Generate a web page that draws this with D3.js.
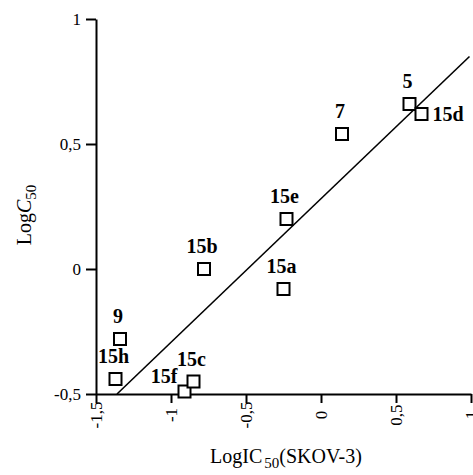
<!DOCTYPE html>
<html>
<head>
<meta charset="utf-8">
<script src="https://cdn.jsdelivr.net/npm/d3@7"></script>
<style>
  body { margin: 0; background: #fff; }
  svg { display: block; font-family: "Liberation Serif", "Times New Roman", serif; }
</style>
</head>
<body>
<div id="chart"></div>
<script>
// compounds and their log values
var compounds = ["15h", "9", "15f", "15c", "15b", "15a", "15e", "7", "5", "15d"];
var logIC50 = [-1.37, -1.34, -0.91, -0.85, -0.78, -0.25, -0.23, 0.14, 0.59, 0.67];
var logC50 = [-0.44, -0.28, -0.49, -0.45, 0.0, -0.08, 0.20, 0.54, 0.66, 0.62];

// fitted line, two ends
var fitX = [-1.36, 0.99];
var fitY = [-0.5, 0.85];

var xTicks = [-1.5, -1, -0.5, 0, 0.5, 1];
var yTicks = [-0.5, 0, 0.5, 1];

var W = 473, H = 475;

var svg = d3.select("#chart").append("svg")
    .attr("width", W)
    .attr("height", H);

var x = d3.scaleLinear().domain([-1.5, 1]).range([96, 471]);
var y = d3.scaleLinear().domain([-0.5, 1]).range([394, 19]);

var fmt = function (d) {
    return String(d).replace(".", ",");
};

// x axis
var xAxis = svg.append("g")
    .attr("transform", "translate(0,394)")
    .call(d3.axisBottom(x).tickValues(xTicks).tickSize(9).tickSizeOuter(0).tickFormat(fmt));

xAxis.selectAll("text")
    .attr("transform", "rotate(-90)")
    .attr("x", -21)
    .attr("y", 0)
    .attr("dy", "0.35em")
    .style("text-anchor", "middle");

// y axis
var yAxis = svg.append("g")
    .attr("transform", "translate(96,0)")
    .call(d3.axisLeft(y).tickValues(yTicks).tickSize(10).tickSizeOuter(0).tickFormat(fmt));

[xAxis, yAxis].forEach(function (ax) {
    ax.select(".domain").attr("stroke", "#000").attr("stroke-width", 2);
    ax.selectAll(".tick line").attr("stroke", "#000").attr("stroke-width", 2);
    ax.selectAll("text")
        .attr("fill", "#000")
        .style("font-family", "Liberation Serif, serif")
        .style("font-size", "17px");
});
yAxis.selectAll("text").attr("x", -15);

// regression line
svg.append("line")
    .attr("x1", x(fitX[0]))
    .attr("y1", y(fitY[0]))
    .attr("x2", x(fitX[1]))
    .attr("y2", y(fitY[1]))
    .attr("stroke", "#000")
    .attr("stroke-width", 1.6);

// markers
var pts = compounds.map(function (c, i) {
    return { name: c, x: logIC50[i], y: logC50[i] };
});

var sq = 12;
svg.selectAll(".pt")
    .data(pts)
    .enter().append("rect")
    .attr("class", "pt")
    .attr("x", function (d) { return x(d.x) - sq / 2; })
    .attr("y", function (d) { return y(d.y) - sq / 2; })
    .attr("width", sq)
    .attr("height", sq)
    .attr("fill", "#fff")
    .attr("stroke", "#000")
    .attr("stroke-width", 2);

// label placement: most sit above the box
var side = { "15d": "right", "15f": "left" };

svg.selectAll(".lbl")
    .data(pts)
    .enter().append("text")
    .attr("class", "lbl")
    .attr("x", function (d) {
        var s = side[d.name];
        if (s === "right") return x(d.x) + 11;
        if (s === "left") return x(d.x) - 7;
        return x(d.x) - 2;
    })
    .attr("y", function (d) {
        var s = side[d.name];
        if (s === "right") return y(d.y) + 7;
        if (s === "left") return y(d.y) - 9;
        return y(d.y) - 16;
    })
    .attr("text-anchor", function (d) {
        var s = side[d.name];
        return s === "right" ? "start" : s === "left" ? "end" : "middle";
    })
    .style("font-weight", "bold")
    .style("font-size", "20px")
    .text(function (d) { return d.name; });

// axis titles
var xt = svg.append("text")
    .attr("x", 286)
    .attr("y", 463)
    .attr("text-anchor", "middle")
    .style("font-size", "20px");
xt.append("tspan").text("LogIC");
xt.append("tspan").attr("dx", 2).attr("dy", 5).style("font-size", "15px").text("50");
xt.append("tspan").attr("dy", -5).text("(SKOV-3)");

var yt = svg.append("text")
    .attr("transform", "translate(31,215) rotate(-90)")
    .attr("text-anchor", "middle")
    .style("font-size", "20px");
yt.append("tspan").text("Log");
yt.append("tspan").style("font-style", "italic").text("C");
yt.append("tspan").attr("dy", 5).style("font-size", "15px").text("50");
</script>
</body>
</html>
